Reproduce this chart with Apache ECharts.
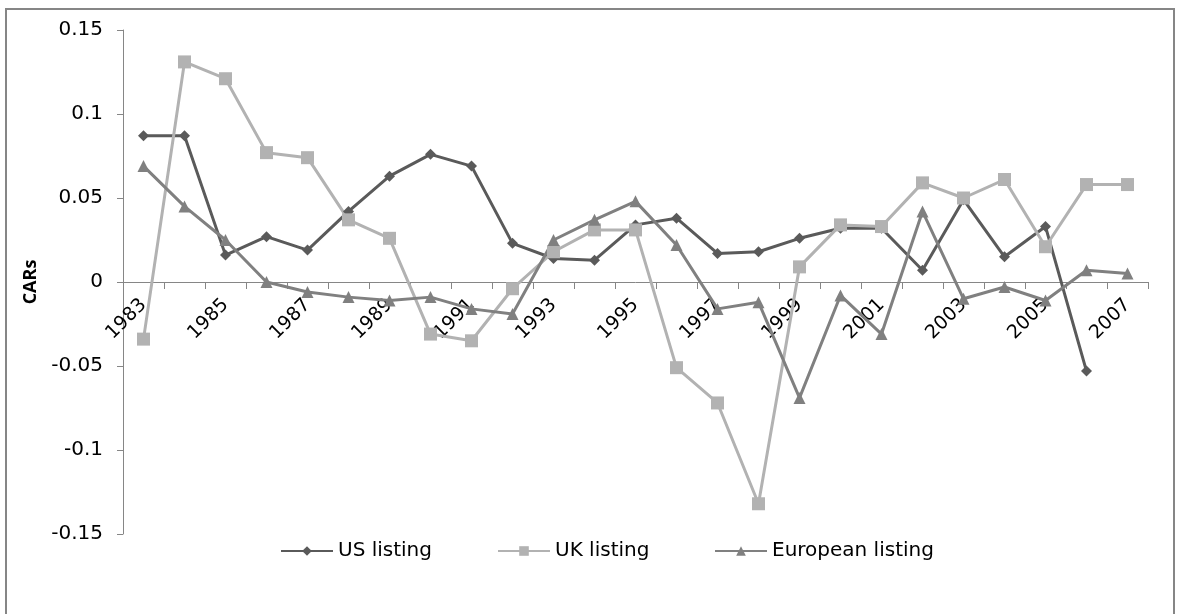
<!DOCTYPE html>
<html>
<head>
<meta charset="utf-8">
<script src="https://cdn.jsdelivr.net/npm/echarts@6/dist/echarts.min.js"></script>
<style>
html,body{margin:0;padding:0;background:#fff;}
#chart{width:1177px;height:614px;}
</style>
</head>
<body>
<div id="chart"></div>
<script>
const years = ['1983','1984','1985','1986','1987','1988','1989','1990','1991','1992','1993','1994','1995','1996','1997','1998','1999','2000','2001','2002','2003','2004','2005','2006','2007'];
const usListing = [0.087,0.087,0.016,0.027,0.019,0.042,0.063,0.076,0.069,0.023,0.014,0.013,0.034,0.038,0.017,0.018,0.026,0.032,0.032,0.007,0.049,0.015,0.033,-0.053,null];
const ukListing = [-0.034,0.131,0.121,0.077,0.074,0.037,0.026,-0.031,-0.035,-0.004,0.018,0.031,0.031,-0.051,-0.072,-0.132,0.009,0.034,0.033,0.059,0.050,0.061,0.021,0.058,0.058];
const euListing = [0.069,0.045,0.025,0.000,-0.006,-0.009,-0.011,-0.009,-0.016,-0.019,0.025,0.037,0.048,0.022,-0.016,-0.012,-0.069,-0.008,-0.031,0.042,-0.010,-0.003,-0.011,0.007,0.005];
const yTicks = {min:-0.15, max:0.15, interval:0.05};
const seriesNames = ['US listing','UK listing','European listing'];

const FONT = '"DejaVu Sans", sans-serif';
const chart = echarts.init(document.getElementById('chart'));
const mk = (name, data, color, symbol, size) => ({
  name, type:'line', data, symbol, symbolSize:size,
  lineStyle:{color, width:3}, itemStyle:{color},
  connectNulls:false, animation:false
});
const legendAt = (name, left) => ({
  left, top:536, itemWidth:52, itemHeight:12, itemGap:0,
  textStyle:{fontFamily:FONT, fontSize:20, color:'#000'},
  data:[name]
});
chart.setOption({
  animation:false,
  graphic:[{type:'rect', shape:{x:6,y:9,width:1168,height:620}, style:{fill:'none', stroke:'#868686', lineWidth:2}, silent:true}],
  grid:{left:123, right:29, top:30, bottom:80, containLabel:false},
  legend:[legendAt(seriesNames[0],275), legendAt(seriesNames[1],492), legendAt(seriesNames[2],709)],
  xAxis:{
    type:'category', data:years, boundaryGap:true, position:'bottom', offset:-252,
    axisLine:{onZero:false, lineStyle:{color:'#868686', width:1}},
    axisTick:{show:true, interval:0, length:7, lineStyle:{color:'#868686'}},
    axisLabel:{interval:1, rotate:45, fontFamily:FONT, fontSize:19, color:'#000', margin:20},
    splitLine:{show:false}
  },
  yAxis:{
    type:'value', min:yTicks.min, max:yTicks.max, interval:yTicks.interval,
    name:'CARs', nameLocation:'middle', nameGap:64,
    nameTextStyle:{fontFamily:'"Open Sans", sans-serif', fontSize:18, fontWeight:'bold', color:'#000'},
    axisLine:{show:true, lineStyle:{color:'#868686', width:1}},
    axisTick:{show:true, length:6, lineStyle:{color:'#868686'}},
    axisLabel:{fontFamily:FONT, fontSize:20, color:'#000', margin:20,
      formatter:v=>String(parseFloat(v.toFixed(2)))},
    splitLine:{show:false}
  },
  series:[
    mk(seriesNames[0], usListing, '#5a5a5a', 'diamond', 11),
    mk(seriesNames[1], ukListing, '#b2b2b2', 'rect', 13),
    mk(seriesNames[2], euListing, '#808080', 'triangle', 12)
  ]
});
</script>
</body>
</html>
